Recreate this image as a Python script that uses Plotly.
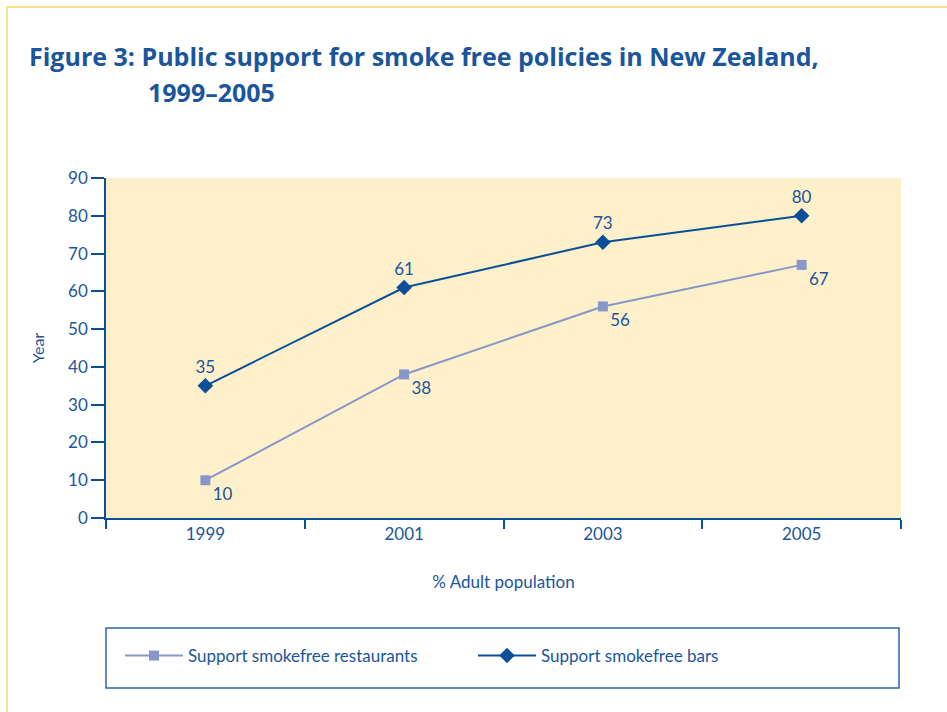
import plotly.graph_objects as go

# Survey years and share of adults supporting each policy (%)
years = ["1999", "2001", "2003", "2005"]
restaurants = [10, 38, 56, 67]
bars = [35, 61, 73, 80]

y_ticks = [0, 10, 20, 30, 40, 50, 60, 70, 80, 90]

DARK = "#0B4F98"
LIGHT = "#8797CA"
TEXT = "#1B559B"
FONT = "Lato"
TITLE_FONT = "Open Sans"

fig = go.Figure()

fig.add_trace(go.Scatter(
    x=years, y=restaurants, name="Support smokefree restaurants",
    mode="lines+markers+text",
    line=dict(color=LIGHT, width=2),
    marker=dict(symbol="square", size=10, color=LIGHT),
    text=[str(v) for v in restaurants],
    textposition="bottom right",
    textfont=dict(color=TEXT, size=17, family=FONT),
))

fig.add_trace(go.Scatter(
    x=years, y=bars, name="Support smokefree bars",
    mode="lines+markers+text",
    line=dict(color=DARK, width=2),
    marker=dict(symbol="diamond", size=12, color=DARK),
    text=[str(v) for v in bars],
    textposition="top center",
    textfont=dict(color=TEXT, size=17, family=FONT),
))

W, H = 947, 712
L, R, T, B = 106, 46, 178, 194
pw, ph = W - L - R, H - T - B


def px_x(x):
    return (x - L) / pw


def px_y(y):
    return (H - B - y) / ph


shapes = [
    # page frame
    dict(type="line", xref="paper", yref="paper",
         x0=px_x(7), x1=px_x(7), y0=px_y(7), y1=px_y(720),
         line=dict(color="#FBE08C", width=2)),
    dict(type="line", xref="paper", yref="paper",
         x0=px_x(7), x1=px_x(960), y0=px_y(7), y1=px_y(7),
         line=dict(color="#FBE08C", width=2)),
    # legend box
    dict(type="rect", xref="paper", yref="paper",
         x0=px_x(106), x1=px_x(899), y0=px_y(688), y1=px_y(628),
         line=dict(color="#2A64A6", width=1.5)),
]

fig.update_layout(
    width=W, height=H,
    margin=dict(l=L, r=R, t=T, b=B),
    paper_bgcolor="white",
    plot_bgcolor="#FDF0CB",
    font=dict(family=FONT, color=TEXT, size=16),
    showlegend=True,
    title=dict(
        text="<b>Figure 3: Public support for smoke free policies in New Zealand,</b>",
        x=29 / W, xref="container", xanchor="left",
        y=1 - 57 / H, yref="container", yanchor="middle",
        font=dict(family=TITLE_FONT, size=25, color=TEXT),
    ),
    annotations=[dict(
        text="<b>1999–2005</b>", xref="paper", yref="paper",
        x=px_x(146), y=px_y(92), xanchor="left", yanchor="middle",
        showarrow=False, font=dict(family=TITLE_FONT, size=25, color=TEXT),
    )],
    legend=dict(
        orientation="h", x=px_x(120), y=px_y(656),
        xanchor="left", yanchor="middle",
        bgcolor="rgba(0,0,0,0)", borderwidth=0,
        itemwidth=58,
        entrywidth=280, entrywidthmode="pixels",
        font=dict(family=FONT, size=17, color=TEXT),
    ),
    shapes=shapes,
)

fig.update_xaxes(
    type="category", range=[-0.5, 3.5],
    showgrid=False, showline=True, linecolor=DARK, linewidth=1.5,
    ticks="outside", tickson="boundaries", ticklen=9, tickcolor=DARK, tickwidth=1.5,
    tickfont=dict(size=17, color=TEXT),
    title=dict(text="% Adult population", standoff=33, font=dict(size=17, color=TEXT)),
)

fig.update_yaxes(
    range=[0, 90], tickvals=y_ticks,
    showgrid=False, zeroline=False, showline=True, linecolor=DARK, linewidth=1.5,
    ticks="outside", ticklen=13, tickcolor=DARK, tickwidth=1.5,
    tickfont=dict(size=17, color=TEXT),
    title=dict(text="Year", standoff=20, font=dict(size=16, color=TEXT)),
)

fig.write_html("out.html")
